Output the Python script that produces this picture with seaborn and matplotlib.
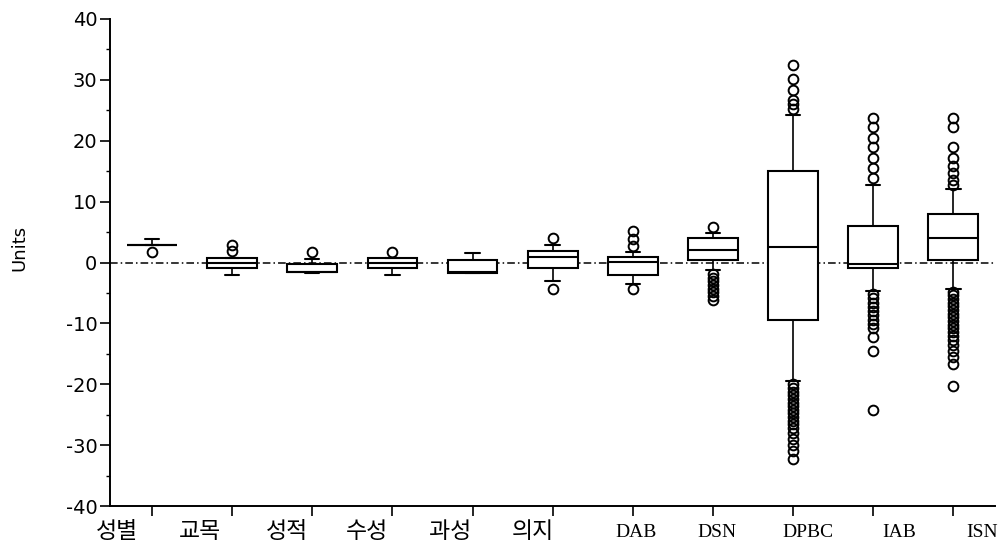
import matplotlib
matplotlib.use("Agg")
import matplotlib.pyplot as plt
import matplotlib.transforms as mtransforms
from matplotlib.ticker import MultipleLocator
import seaborn as sns

# ---------------- data ----------------
categories = ['성별', '교목', '성적', '수성', '과성', '의지', 'DAB', 'DSN', 'DPBC', 'IAB', 'ISN']
q1 = [2.8, -0.9, -1.6, -0.9, -1.7, -0.9, -2.0, 0.4, -9.5, -0.9, 0.4]
median = [2.8, 0.0, -1.5, 0.0, -1.5, 0.9, 0.1, 2.0, 2.6, -0.3, 4.0]
q3 = [2.8, 0.8, -0.2, 0.8, 0.4, 1.9, 0.9, 4.0, 15.1, 6.0, 8.0]
whisker_low = [2.8, -2.1, -1.8, -2.1, -1.8, -3.0, -3.5, -1.3, -19.5, -4.7, -4.3]
whisker_high = [3.9, 0.8, 0.6, 0.8, 1.6, 2.9, 1.8, 4.8, 24.2, 12.8, 12.0]
outliers_high = [
    [], [1.9, 2.9], [1.8], [1.8], [], [4.0], [2.7, 3.9, 5.1], [5.9],
    [25.2, 26.0, 26.7, 28.3, 30.1, 32.4],
    [13.9, 15.6, 17.2, 18.9, 20.5, 22.2, 23.8],
    [12.7, 13.6, 14.7, 15.9, 17.2, 18.9, 22.2, 23.8],
]
outliers_low = [
    [1.7], [], [], [], [], [-4.3], [-4.4],
    [-1.9, -2.5, -3.1, -3.7, -4.3, -4.9, -5.5, -6.2],
    [-20.0, -20.6, -21.2, -21.8, -22.4, -23.0, -23.6, -24.2, -24.8, -25.4,
     -26.0, -26.6, -27.2, -28.0, -29.0, -30.0, -31.0, -32.2],
    [-5.2, -5.9, -6.6, -7.3, -8.0, -8.7, -9.4, -10.1, -10.8, -12.3, -14.5, -24.2],
    [-4.8, -5.4, -6.0, -6.6, -7.2, -7.8, -8.4, -9.0, -9.6, -10.2, -10.8, -11.4,
     -12.0, -12.8, -13.6, -14.5, -15.5, -16.6, -20.3],
]
y_ticks = [-40, -30, -20, -10, 0, 10, 20, 30, 40]
y_label = 'Units'

# ---------------- layout ----------------
label_shift_px = [-35, -32, -25, -25, -22, -20, 3, 4, 15, 26, 29]

sns.set_theme(style="ticks")
plt.rcParams['font.family'] = ['DejaVu Sans', 'Noto Sans CJK KR']

fig = plt.figure(figsize=(10.04, 5.57), dpi=100)
ax = fig.add_axes([110 / 1004, 1 - 506 / 557, 885 / 1004, 487 / 557])

ax.axhline(0, color='black', linewidth=1.1, linestyle=(0, (5, 2, 1, 2)), zorder=1)

stats = []
for i, c in enumerate(categories):
    stats.append(dict(label=c, q1=q1[i], med=median[i], q3=q3[i],
                      whislo=whisker_low[i], whishi=whisker_high[i],
                      fliers=outliers_high[i] + outliers_low[i]))

positions = list(range(len(categories)))
ax.bxp(stats, positions=positions, widths=0.62, capwidths=0.18,
       patch_artist=True, manage_ticks=False, zorder=3,
       boxprops=dict(facecolor='white', edgecolor='black', linewidth=1.5),
       medianprops=dict(color='black', linewidth=1.5),
       whiskerprops=dict(color='black', linewidth=1.2),
       capprops=dict(color='black', linewidth=1.5),
       flierprops=dict(marker='o', markerfacecolor='none', markeredgecolor='black',
                       markeredgewidth=1.4, markersize=7, linestyle='none'))

ax.set_xlim(-0.524, 10.52)
ax.set_ylim(-40, 40)
ax.set_yticks(y_ticks)
ax.set_yticklabels([str(v) for v in y_ticks], fontsize=14, fontfamily='DejaVu Sans')
ax.yaxis.set_minor_locator(MultipleLocator(5))
ax.set_xticks(positions)
ax.set_xticklabels([])

# category labels, drawn as text under each tick (shifted as in the scan)
base = mtransforms.blended_transform_factory(ax.transData, ax.transAxes)
for i, (c, dx) in enumerate(zip(categories, label_shift_px)):
    is_latin = c.isascii()
    tr = base + mtransforms.ScaledTranslation(dx / 100, (-18 if is_latin else -16) / 100,
                                              fig.dpi_scale_trans)
    ax.text(i, 0, c, transform=tr, ha='center', va='top',
            fontsize=14 if is_latin else 16.5,
            color='black', fontfamily=['Liberation Serif', 'Noto Sans CJK KR'])

ax.tick_params(axis='y', which='major', length=7, width=1.2, pad=2, color='black', labelcolor='black')
ax.tick_params(axis='y', which='minor', length=3, width=1.0, color='black')
ax.tick_params(axis='x', which='major', length=7, width=1.2, color='black')

ax.set_ylabel(y_label, fontsize=13, color='black', fontfamily='DejaVu Sans')
ax.yaxis.set_label_coords(-82 / 885, 0.53)

sns.despine(ax=ax)
for s in ['left', 'bottom']:
    ax.spines[s].set_color('black')
    ax.spines[s].set_linewidth(1.4)

fig.savefig('out.png', dpi=100)
